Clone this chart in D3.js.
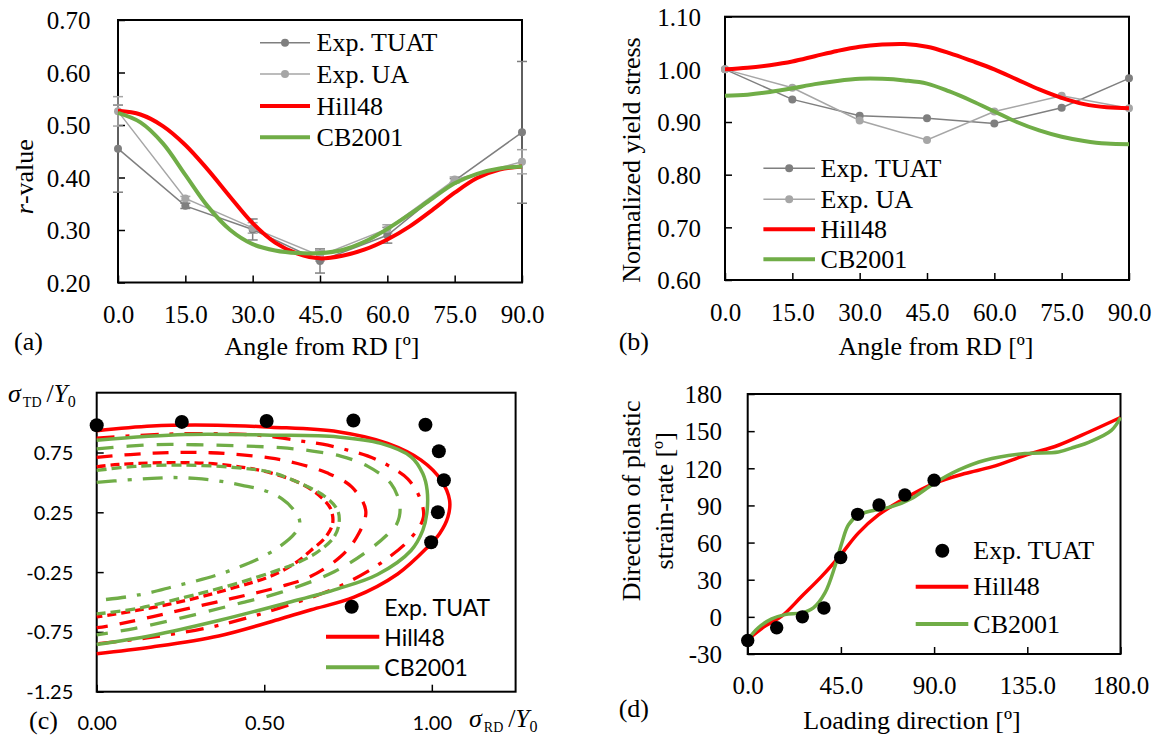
<!DOCTYPE html>
<html>
<head>
<meta charset="utf-8">
<script src="https://cdn.jsdelivr.net/npm/d3@7"></script>
<style>
body { margin: 0; background: #fff; }
</style>
</head>
<body>
<svg id="fig" width="1158" height="735"></svg>
<script>
// ---------- data ----------
// (a) r-value vs angle from RD
const angles = [0, 15, 30, 45, 60, 75, 90];
const rTuat = [0.455, 0.346, 0.301, 0.241, 0.290, 0.394, 0.486];
const rTuatErr = [0.083, 0.005, 0.020, 0.023, 0.015, 0.004, 0.135];
const rUa = [0.526, 0.360, 0.304, 0.251, 0.302, 0.396, 0.430];
const rUaErr = [0.028, 0.004, 0.010, 0.010, 0.008, 0.005, 0.023];
const fineAngles = [0, 5, 10, 15, 20, 25, 30, 35, 40, 45, 50, 55, 60, 65, 70, 75, 80, 85, 90];
const rHill = [0.527, 0.520, 0.498, 0.462, 0.415, 0.363, 0.313, 0.276, 0.255, 0.246, 0.251, 0.263, 0.282, 0.307, 0.338, 0.371, 0.399, 0.415, 0.421];
const rCb = [0.523, 0.505, 0.465, 0.405, 0.345, 0.300, 0.273, 0.261, 0.256, 0.256, 0.262, 0.278, 0.302, 0.330, 0.360, 0.389, 0.407, 0.417, 0.421];

// (b) normalized yield stress
const sTuat = [1.000, 0.943, 0.912, 0.907, 0.897, 0.927, 0.983];
const sUa = [1.000, 0.965, 0.903, 0.866, 0.920, 0.950, 0.926];
const sHill = [1.000, 1.003, 1.008, 1.015, 1.025, 1.035, 1.043, 1.047, 1.048, 1.043, 1.031, 1.016, 1.000, 0.981, 0.962, 0.946, 0.934, 0.928, 0.926];
const sCb = [0.950, 0.952, 0.957, 0.964, 0.972, 0.978, 0.982, 0.982, 0.979, 0.973, 0.958, 0.940, 0.920, 0.900, 0.884, 0.872, 0.864, 0.859, 0.858];

// (c) yield loci, sigma_RD/Y0 vs sigma_TD/Y0
const locusExp = [[0, 0.978], [0.254, 1.006], [0.507, 1.014], [0.766, 1.018], [0.981, 0.982], [1.021, 0.76], [1.036, 0.518], [1.018, 0.25], [0.998, 0.0]];
const hillC0 = [[0, 0.932], [0.165, 0.972], [0.36, 0.978], [0.52, 0.962], [0.72, 0.924], [0.868, 0.826], [0.968, 0.686], [1.028, 0.518], [1.053, 0.35], [1.048, 0.21], [1.023, 0.07], [0.988, -0.04], [0.898, -0.266], [0.768, -0.46], [0.64, -0.565], [0.55, -0.64], [0.364, -0.784], [0.165, -0.876], [0, -0.932]];
const hillC1 = [[0, 0.87], [0.2, 0.903], [0.4, 0.905], [0.5, 0.89], [0.6, 0.85], [0.674, 0.82], [0.749, 0.77], [0.808, 0.722], [0.868, 0.644], [0.928, 0.53], [0.963, 0.378], [0.975, 0.21], [0.94, 0.043], [0.85, -0.17], [0.719, -0.376], [0.589, -0.51], [0.459, -0.625], [0.324, -0.72], [0.15, -0.8], [0, -0.85]];
const hillC2 = [[0, 0.71], [0.17, 0.745], [0.34, 0.748], [0.516, 0.705], [0.599, 0.658], [0.687, 0.58], [0.761, 0.462], [0.803, 0.26], [0.776, 0.043], [0.728, -0.12], [0.639, -0.285], [0.55, -0.37], [0.404, -0.47], [0.225, -0.585], [0.055, -0.69], [0, -0.715]];
const hillC3 = [[0, 0.63], [0.065, 0.65], [0.214, 0.665], [0.364, 0.652], [0.519, 0.58], [0.619, 0.476], [0.669, 0.378], [0.698, 0.28], [0.704, 0.155], [0.683, 0.043], [0.639, -0.069], [0.6, -0.16], [0.524, -0.279], [0.414, -0.377], [0.264, -0.489], [0.115, -0.573], [0, -0.625]];
const cbC0 = [[0, 0.853], [0.264, 0.9], [0.52, 0.895], [0.72, 0.88], [0.848, 0.826], [0.938, 0.714], [0.973, 0.574], [0.986, 0.434], [0.985, 0.239], [0.973, 0.099], [0.938, -0.069], [0.838, -0.27], [0.719, -0.39], [0.564, -0.51], [0.364, -0.655], [0.165, -0.78], [0, -0.855]];
const cbC1 = [[0, 0.78], [0.165, 0.815], [0.294, 0.815], [0.549, 0.79], [0.644, 0.762], [0.728, 0.72], [0.808, 0.636], [0.878, 0.49], [0.905, 0.3], [0.895, 0.15], [0.866, 0.06], [0.81, -0.07], [0.71, -0.245], [0.549, -0.42], [0.434, -0.505], [0.294, -0.605], [0.115, -0.72], [0, -0.775]];
const cbC2 = [[0, 0.6], [0.115, 0.634], [0.264, 0.644], [0.414, 0.624], [0.519, 0.585], [0.599, 0.503], [0.683, 0.378], [0.719, 0.266], [0.723, 0.155], [0.708, 0.043], [0.66, -0.08], [0.6, -0.17], [0.524, -0.25], [0.414, -0.348], [0.264, -0.46], [0.115, -0.558], [0, -0.6]];
const cbC3 = [[0, 0.5], [0.09, 0.52], [0.165, 0.533], [0.23, 0.541], [0.294, 0.533], [0.364, 0.512], [0.434, 0.476], [0.499, 0.434], [0.553, 0.363], [0.585, 0.28], [0.606, 0.17], [0.59, 0.07], [0.544, -0.04], [0.489, -0.13], [0.424, -0.209], [0.364, -0.27], [0.294, -0.326], [0.23, -0.37], [0.165, -0.418], [0.095, -0.455], [0, -0.488]];

// (d) direction of plastic strain-rate vs loading direction
const ldExpX = [0, 14.0, 26.4, 36.8, 44.9, 53.1, 63.4, 75.9, 90];
const ldExpY = [-19.1, -8.8, 0, 7.2, 47.9, 82.8, 90.3, 98.4, 110.4];
const ldHillX = [0, 8.4, 16.4, 26.1, 35.7, 44.9, 53.4, 63.1, 75.9, 90, 104.9, 117.8, 135, 150, 165, 180];
const ldHillY = [-18.5, -7.5, 0.5, 16.6, 32.7, 50.1, 67.6, 82.3, 95.7, 107.8, 115.8, 121.1, 131, 138.6, 149.5, 161];
const ldCbX = [0, 5.1, 11.6, 18.0, 26.1, 31.7, 37.3, 42.1, 45.4, 48.6, 53.4, 61.5, 69.5, 79.2, 90, 101.7, 114.6, 133.9, 150, 158, 164.9, 175.6, 180];
const ldCbY = [-18.5, -8.8, -1.6, 1.8, 3.2, 7.2, 19.3, 40.7, 59.5, 74.2, 82.3, 86.3, 89.0, 95.7, 107.8, 118.5, 126.5, 131.9, 133.2, 137.2, 141.2, 150.6, 161];

// ---------- styles ----------
const RED = "#ff0000", GREEN = "#70ad47", DGRAY = "#7f7f7f", LGRAY = "#a6a6a6";
const SERIF = '"Liberation Serif", "Times New Roman", serif';
const SANS = 'Lato, "Noto Sans", sans-serif';

const svg = d3.select("#fig");
svg.append("rect").attr("width", 1158).attr("height", 735).attr("fill", "#fff");

function txt(x, y, s, size, font, anchor) {
    return svg.append("text").attr("x", x).attr("y", y)
        .attr("font-family", font || SERIF).attr("font-size", size || 26)
        .attr("text-anchor", anchor || "start")
        .attr("dominant-baseline", "central").text(s);
}

// box + inside ticks, labels positioned like Excel
function axes(x, y, xt, yt, xfmt, yfmt, font, fsize, xlabDy, ylabDx) {
    let x0 = x.range()[0], y0 = y.range()[0];
    svg.append("g").attr("transform", "translate(0," + y0 + ")")
        .call(d3.axisBottom(x).tickValues(xt).tickFormat(xfmt).tickSizeInner(-7).tickSizeOuter(0))
        .call(g => g.select(".domain").remove())
        .call(g => g.selectAll("line").attr("stroke-width", 1.5))
        .call(g => g.selectAll("text").attr("y", xlabDy).attr("dy", "0.35em"))
        .attr("font-family", font).attr("font-size", fsize);
    svg.append("g").attr("transform", "translate(" + x0 + ",0)")
        .call(d3.axisLeft(y).tickValues(yt).tickFormat(yfmt).tickSizeInner(-7).tickSizeOuter(0))
        .call(g => g.select(".domain").remove())
        .call(g => g.selectAll("line").attr("stroke-width", 1.5))
        .call(g => g.selectAll("text").attr("x", -ylabDx).attr("dy", "0.35em"))
        .attr("font-family", font).attr("font-size", fsize);
    svg.append("rect").attr("x", x0).attr("y", y.range()[1])
        .attr("width", x.range()[1] - x0).attr("height", y0 - y.range()[1])
        .attr("fill", "none").attr("stroke", "#000").attr("stroke-width", 2);
}

function path(pts, x, y, color, w, dash, smooth) {
    let line = d3.line().x(d => x(d[0])).y(d => y(d[1]))
        .curve(smooth ? d3.curveCatmullRom.alpha(0.5) : d3.curveLinear);
    svg.append("path").attr("d", line(pts)).attr("fill", "none")
        .attr("stroke", color).attr("stroke-width", w)
        .attr("stroke-dasharray", dash || null);
}

function dots(pts, x, y, color, r) {
    svg.append("g").selectAll("circle").data(pts).join("circle")
        .attr("cx", d => x(d[0])).attr("cy", d => y(d[1])).attr("r", r).attr("fill", color);
}

function errBars(xs, vs, es, x, y, color) {
    let g = svg.append("g").attr("stroke", color).attr("stroke-width", 1.5);
    xs.forEach((a, i) => {
        let cx = x(a), lo = y(vs[i] - es[i]), hi = y(vs[i] + es[i]);
        g.append("line").attr("x1", cx).attr("x2", cx).attr("y1", lo).attr("y2", hi);
        g.append("line").attr("x1", cx - 5).attr("x2", cx + 5).attr("y1", lo).attr("y2", lo);
        g.append("line").attr("x1", cx - 5).attr("x2", cx + 5).attr("y1", hi).attr("y2", hi);
    });
}

const zip = (a, b) => a.map((v, i) => [v, b[i]]);

// ---------- (a) ----------
const xa = d3.scaleLinear().domain([0, 90]).range([118, 522]);
const ya = d3.scaleLinear().domain([0.2, 0.7]).range([282.5, 20]);
axes(xa, ya, angles, [0.2, 0.3, 0.4, 0.5, 0.6, 0.7], d => d.toFixed(1), d => d.toFixed(2), SERIF, 25, 32, 27.6);
errBars(angles, rTuat, rTuatErr, xa, ya, DGRAY);
errBars(angles, rUa, rUaErr, xa, ya, LGRAY);
path(zip(angles, rTuat), xa, ya, DGRAY, 1.5);
dots(zip(angles, rTuat), xa, ya, DGRAY, 4);
path(zip(angles, rUa), xa, ya, LGRAY, 1.5);
dots(zip(angles, rUa), xa, ya, LGRAY, 4);
path(zip(fineAngles, rHill), xa, ya, RED, 4, null, true);
path(zip(fineAngles, rCb), xa, ya, GREEN, 4, null, true);

svg.append("text").attr("transform", "translate(24,176.7) rotate(-90)")
    .attr("font-family", SERIF).attr("font-size", 26).attr("text-anchor", "middle")
    .attr("dominant-baseline", "central")
    .call(t => { t.append("tspan").attr("font-style", "italic").text("r"); t.append("tspan").text("-value"); });
txt(322, 346.7, "Angle from RD [º]", 26, SERIF, "middle");
txt(14, 341.7, "(a)", 26);

function legendRows(rows, x1, x2, tx, font, fsize) {
    rows.forEach(r => {
        if (r.line) svg.append("line").attr("x1", x1).attr("x2", x2).attr("y1", r.y).attr("y2", r.y)
            .attr("stroke", r.color).attr("stroke-width", r.w);
        if (r.dot) svg.append("circle").attr("cx", (x1 + x2) / 2).attr("cy", r.y).attr("r", r.dot).attr("fill", r.dotColor || r.color);
        txt(tx, r.y, r.label, fsize, font);
    });
}
legendRows([
    { label: "Exp. TUAT", color: DGRAY, w: 1.5, line: true, dot: 4, y: 42.7 },
    { label: "Exp. UA", color: LGRAY, w: 1.5, line: true, dot: 4, y: 74 },
    { label: "Hill48", color: RED, w: 4, line: true, y: 106 },
    { label: "CB2001", color: GREEN, w: 4, line: true, y: 137.3 }
], 260, 310, 316.6, SERIF, 26);

// ---------- (b) ----------
const xb = d3.scaleLinear().domain([0, 90]).range([725, 1129]);
const yb = d3.scaleLinear().domain([0.6, 1.1]).range([280, 16.7]);
axes(xb, yb, angles, [0.6, 0.7, 0.8, 0.9, 1.0, 1.1], d => d.toFixed(1), d => d.toFixed(2), SERIF, 25, 32, 24);
path(zip(angles, sTuat), xb, yb, DGRAY, 1.5);
dots(zip(angles, sTuat), xb, yb, DGRAY, 4);
path(zip(angles, sUa), xb, yb, LGRAY, 1.5);
dots(zip(angles, sUa), xb, yb, LGRAY, 4);
path(zip(fineAngles, sHill), xb, yb, RED, 4, null, true);
path(zip(fineAngles, sCb), xb, yb, GREEN, 4, null, true);

svg.append("text").attr("transform", "translate(631.7,160) rotate(-90)")
    .attr("font-family", SERIF).attr("font-size", 26).attr("text-anchor", "middle")
    .attr("dominant-baseline", "central").text("Normalized yield stress");
txt(936, 346.7, "Angle from RD [º]", 26, SERIF, "middle");
txt(618.7, 341.7, "(b)", 26);
legendRows([
    { label: "Exp. TUAT", color: DGRAY, w: 1.5, line: true, dot: 4, y: 168.3 },
    { label: "Exp. UA", color: LGRAY, w: 1.5, line: true, dot: 4, y: 199.3 },
    { label: "Hill48", color: RED, w: 4, line: true, y: 229.3 },
    { label: "CB2001", color: GREEN, w: 4, line: true, y: 259.3 }
], 763.4, 815, 820.6, SERIF, 26);

// ---------- (c) ----------
const xc = d3.scaleLinear().domain([0, 1.25]).range([96.7, 515.6]);
const yc = d3.scaleLinear().domain([-1.25, 1.25]).range([691.7, 392.7]);
axes(xc, yc, [0, 0.5, 1.0], [-1.25, -0.75, -0.25, 0.25, 0.75], d => d.toFixed(2), d => d.toFixed(2), SANS, 20, 31, 23.4);

path(hillC0, xc, yc, RED, 3.5, null, true);
path(hillC1, xc, yc, RED, 3.3, "18,11,4,11", true);
path(hillC2, xc, yc, RED, 3.3, "16,12", true);
path(hillC3, xc, yc, RED, 3.3, "9,5", true);
path(cbC0, xc, yc, GREEN, 3.5, null, true);
path(cbC1, xc, yc, GREEN, 3.3, "17,13", true);
path(cbC2, xc, yc, GREEN, 3.3, "10,5", true);
path(cbC3, xc, yc, GREEN, 3.3, "20,11,4,11", true);
dots(locusExp, xc, yc, "#000", 7);

// axis titles with sub-scripts
function sigmaLabel(x, y, sub) {
    let t = svg.append("text").attr("x", x).attr("y", y).attr("font-family", SERIF).attr("font-size", 26);
    t.append("tspan").attr("font-style", "italic").text("σ");
    t.append("tspan").attr("font-size", 14).attr("dx", 2).attr("dy", 5).text(sub);
    t.append("tspan").attr("dx", 5).attr("dy", -5).text("/");
    t.append("tspan").attr("font-style", "italic").attr("font-size", 25).text("Y");
    t.append("tspan").attr("font-size", 16).attr("dy", 5).text("0");
}
sigmaLabel(8, 402, "TD");
sigmaLabel(469, 727, "RD");
txt(29, 720, "(c)", 26);

svg.append("circle").attr("cx", 351.7).attr("cy", 606.7).attr("r", 7).attr("fill", "#000");
txt(384.3, 606.7, "Exp. TUAT", 23, SANS);
legendRows([
    { label: "Hill48", color: RED, w: 4, line: true, y: 636.7 },
    { label: "CB2001", color: GREEN, w: 4, line: true, y: 667.3 }
], 326, 379.3, 384.3, SANS, 23);

// ---------- (d) ----------
const xd = d3.scaleLinear().domain([0, 180]).range([747.7, 1120.5]);
const yd = d3.scaleLinear().domain([-30, 180]).range([654, 394]);
axes(xd, yd, [0, 45, 90, 135, 180], [-30, 0, 30, 60, 90, 120, 150, 180], d => d.toFixed(1), d => d.toFixed(0), SERIF, 25, 31, 25.7);
path(zip(ldHillX, ldHillY), xd, yd, RED, 3.5, null, true);
path(zip(ldCbX, ldCbY), xd, yd, GREEN, 3.5, null, true);
dots(zip(ldExpX, ldExpY), xd, yd, "#000", 6.7);

svg.append("text").attr("transform", "translate(631.7,500.8) rotate(-90)")
    .attr("font-family", SERIF).attr("font-size", 26).attr("text-anchor", "middle")
    .attr("dominant-baseline", "central").text("Direction of plastic");
svg.append("text").attr("transform", "translate(664.9,500.8) rotate(-90)")
    .attr("font-family", SERIF).attr("font-size", 26).attr("text-anchor", "middle")
    .attr("dominant-baseline", "central").text("strain-rate [º]");
txt(912, 720, "Loading direction [º]", 26, SERIF, "middle");
txt(618.7, 708.3, "(d)", 26);

svg.append("circle").attr("cx", 942.3).attr("cy", 550.7).attr("r", 7).attr("fill", "#000");
txt(973.3, 550.7, "Exp. TUAT", 26, SERIF);
legendRows([
    { label: "Hill48", color: RED, w: 4, line: true, y: 586.7 },
    { label: "CB2001", color: GREEN, w: 4, line: true, y: 624 }
], 915.7, 968.3, 973.3, SERIF, 26);
</script>
</body>
</html>
